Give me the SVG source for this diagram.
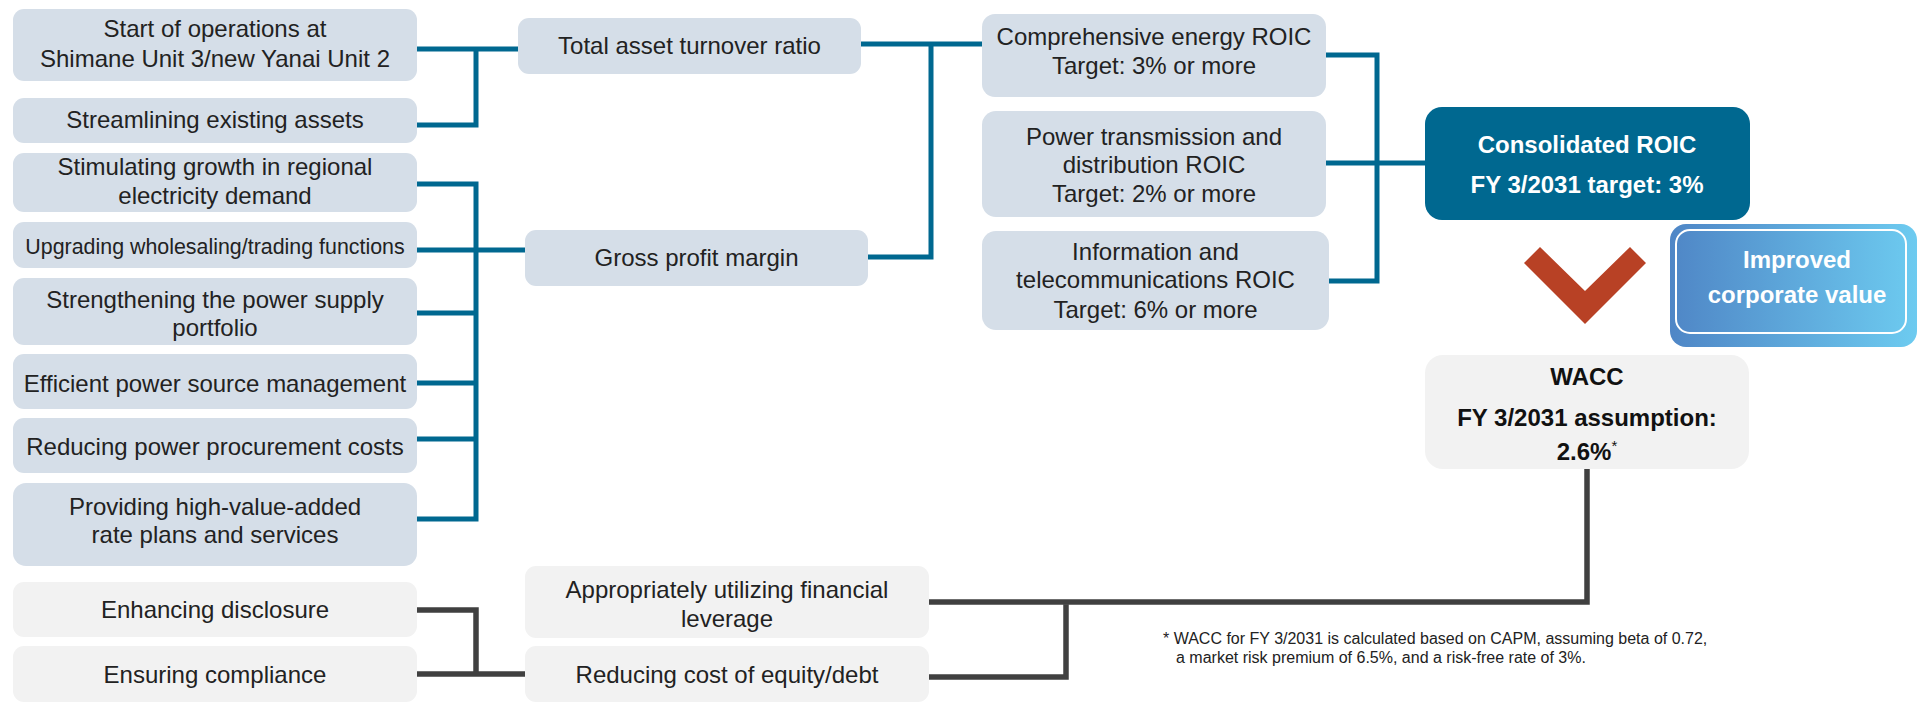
<svg xmlns="http://www.w3.org/2000/svg" width="1924" height="706" viewBox="0 0 1924 706">
<style>
  .bx { fill: #d5dee8; }
  .gx { fill: #f2f2f2; }
  .t { font-family: "Liberation Sans", Arial, sans-serif; font-size: 24px; fill: #222222; text-anchor: middle; }
  .tb { font-family: "Liberation Sans", Arial, sans-serif; font-size: 24px; font-weight: bold; text-anchor: middle; }
  .w { fill: #ffffff; }
  .k { fill: #111111; }
  .bl { stroke: #006890; stroke-width: 5; fill: none; stroke-linecap: square; }
  .gl { stroke: #404040; stroke-width: 5.5; fill: none; stroke-linecap: square; }
  .fn { font-family: "Liberation Sans", Arial, sans-serif; font-size: 16px; fill: #222222; }
</style>
<defs>
  <linearGradient id="grad" x1="0" y1="0" x2="1" y2="0">
    <stop offset="0" stop-color="#4f86c6"/>
    <stop offset="1" stop-color="#6dcbf0"/>
  </linearGradient>
</defs>

<g id="connectors">
  <path class="bl" d="M417,49 H518 M417,125 H476 V49"/>
  <path class="bl" d="M417,184 H476 V519 H417 M417,250 H525 M417,313 H476 M417,383 H476 M417,439 H476"/>
  <path class="bl" d="M861,44 H982 M868,257 H931 V44"/>
  <path class="bl" d="M1326,55 H1377 V281 H1329 M1326,163 H1425"/>
  <path class="gl" d="M417,610 H476 V674 M417,674 H525"/>
  <path class="gl" d="M929,602 H1587 V469"/>
  <path class="gl" d="M929,677 H1066 V607"/>
</g>

<g id="n-start"><rect class="bx" x="13" y="9" width="404" height="72" rx="11"/>
  <text class="t" x="215" y="37">Start of operations at</text>
  <text class="t" x="215" y="67">Shimane Unit 3/new Yanai Unit 2</text></g>
<g id="n-streamlining"><rect class="bx" x="13" y="98" width="404" height="45" rx="11"/>
  <text class="t" x="215" y="128">Streamlining existing assets</text></g>
<g id="n-stimulating"><rect class="bx" x="13" y="153" width="404" height="59" rx="11"/>
  <text class="t" x="215" y="175">Stimulating growth in regional</text>
  <text class="t" x="215" y="204">electricity demand</text></g>
<g id="n-upgrading"><rect class="bx" x="13" y="222" width="404" height="46" rx="11"/>
  <text class="t" x="215" y="254" style="font-size:21.4px">Upgrading wholesaling/trading functions</text></g>
<g id="n-strengthening"><rect class="bx" x="13" y="278" width="404" height="67" rx="11"/>
  <text class="t" x="215" y="308">Strengthening the power supply</text>
  <text class="t" x="215" y="336">portfolio</text></g>
<g id="n-efficient"><rect class="bx" x="13" y="354" width="404" height="55" rx="11"/>
  <text class="t" x="215" y="392">Efficient power source management</text></g>
<g id="n-reducing-power"><rect class="bx" x="13" y="418" width="404" height="55" rx="11"/>
  <text class="t" x="215" y="455">Reducing power procurement costs</text></g>
<g id="n-providing"><rect class="bx" x="13" y="483" width="404" height="83" rx="13"/>
  <text class="t" x="215" y="515">Providing high-value-added</text>
  <text class="t" x="215" y="543">rate plans and services</text></g>
<g id="n-enhancing"><rect class="gx" x="13" y="582" width="404" height="55" rx="11"/>
  <text class="t" x="215" y="618">Enhancing disclosure</text></g>
<g id="n-ensuring"><rect class="gx" x="13" y="646" width="404" height="56" rx="11"/>
  <text class="t" x="215" y="683">Ensuring compliance</text></g>

<g id="n-total"><rect class="bx" x="518" y="18" width="343" height="56" rx="11"/>
  <text class="t" x="689.5" y="54">Total asset turnover ratio</text></g>
<g id="n-gross"><rect class="bx" x="525" y="230" width="343" height="56" rx="11"/>
  <text class="t" x="696.5" y="266">Gross profit margin</text></g>
<g id="n-appropriately"><rect class="gx" x="525" y="566" width="404" height="72" rx="11"/>
  <text class="t" x="727" y="598">Appropriately utilizing financial</text>
  <text class="t" x="727" y="627">leverage</text></g>
<g id="n-reducing-cost"><rect class="gx" x="525" y="646" width="404" height="56" rx="11"/>
  <text class="t" x="727" y="683">Reducing cost of equity/debt</text></g>

<g id="n-comprehensive"><rect class="bx" x="982" y="14" width="344" height="83" rx="13"/>
  <text class="t" x="1154" y="45">Comprehensive energy ROIC</text>
  <text class="t" x="1154" y="74">Target: 3% or more</text></g>
<g id="n-power"><rect class="bx" x="982" y="111" width="344" height="106" rx="14"/>
  <text class="t" x="1154" y="145">Power transmission and</text>
  <text class="t" x="1154" y="173">distribution ROIC</text>
  <text class="t" x="1154" y="202">Target: 2% or more</text></g>
<g id="n-info"><rect class="bx" x="982" y="231" width="347" height="99" rx="14"/>
  <text class="t" x="1155.5" y="260">Information and</text>
  <text class="t" x="1155.5" y="288">telecommunications ROIC</text>
  <text class="t" x="1155.5" y="318">Target: 6% or more</text></g>

<g id="n-consolidated"><rect x="1425" y="107" width="325" height="113" rx="17" fill="#006890"/>
  <text class="tb w" x="1587" y="153">Consolidated ROIC</text>
  <text class="tb w" x="1587" y="193">FY 3/2031 target: 3%</text></g>

<g id="n-chevron"><polygon points="1524,263 1540,247 1585,291 1630,247 1646,263 1585,324" fill="#b84125"/></g>

<g id="n-improved"><rect x="1670" y="224" width="247" height="123" rx="16" fill="url(#grad)"/>
  <rect x="1676" y="230" width="230" height="103" rx="14" fill="none" stroke="#ffffff" stroke-width="2"/>
  <text class="tb w" x="1797" y="268">Improved</text>
  <text class="tb w" x="1797" y="303">corporate value</text></g>

<g id="n-wacc"><rect class="gx" x="1425" y="355" width="324" height="114" rx="18"/>
  <text class="tb k" x="1587" y="385">WACC</text>
  <text class="tb k" x="1587" y="426">FY 3/2031 assumption:</text>
  <text class="tb k" x="1587" y="460">2.6%<tspan font-size="15" font-weight="normal" dy="-9">*</tspan></text></g>

<g id="footnote">
  <text class="fn" x="1163" y="644">* WACC for FY 3/2031 is calculated based on CAPM, assuming beta of 0.72,</text>
  <text class="fn" x="1176" y="663">a market risk premium of 6.5%, and a risk-free rate of 3%.</text>
</g>
</svg>
